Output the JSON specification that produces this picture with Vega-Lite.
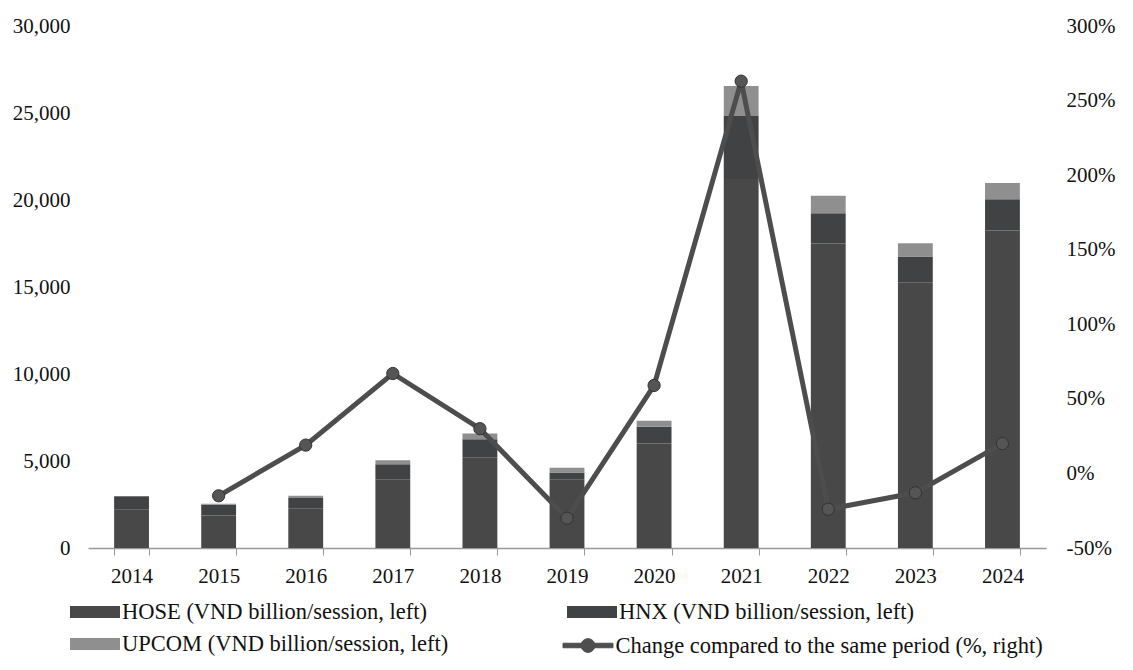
{
  "$schema": "https://vega.github.io/schema/vega-lite/v6.json",
  "width": 958,
  "height": 522,
  "autosize": {"type": "none"},
  "padding": {"left": 88, "top": 26, "right": 87, "bottom": 122},
  "background": "white",
  "config": {
    "view": {"stroke": null},
    "font": "Liberation Serif",
    "axis": {"grid": false, "labelFont": "Liberation Serif", "labelColor": "#111", "labelFontSize": 21},
    "legend": {"labelFont": "Liberation Serif", "labelColor": "#111", "labelFontSize": 22.5, "labelLimit": 0}
  },
  "datasets": {
    "bars": [
      {"year": "2014", "exchange": "HOSE (VND billion/session, left)", "rank": 1, "value": 2200},
      {"year": "2014", "exchange": "HNX (VND billion/session, left)", "rank": 2, "value": 770},
      {"year": "2014", "exchange": "UPCOM (VND billion/session, left)", "rank": 3, "value": 15},
      {"year": "2015", "exchange": "HOSE (VND billion/session, left)", "rank": 1, "value": 1870},
      {"year": "2015", "exchange": "HNX (VND billion/session, left)", "rank": 2, "value": 620},
      {"year": "2015", "exchange": "UPCOM (VND billion/session, left)", "rank": 3, "value": 50},
      {"year": "2016", "exchange": "HOSE (VND billion/session, left)", "rank": 1, "value": 2250},
      {"year": "2016", "exchange": "HNX (VND billion/session, left)", "rank": 2, "value": 630},
      {"year": "2016", "exchange": "UPCOM (VND billion/session, left)", "rank": 3, "value": 130},
      {"year": "2017", "exchange": "HOSE (VND billion/session, left)", "rank": 1, "value": 3950},
      {"year": "2017", "exchange": "HNX (VND billion/session, left)", "rank": 2, "value": 860},
      {"year": "2017", "exchange": "UPCOM (VND billion/session, left)", "rank": 3, "value": 230},
      {"year": "2018", "exchange": "HOSE (VND billion/session, left)", "rank": 1, "value": 5220},
      {"year": "2018", "exchange": "HNX (VND billion/session, left)", "rank": 2, "value": 1030},
      {"year": "2018", "exchange": "UPCOM (VND billion/session, left)", "rank": 3, "value": 330},
      {"year": "2019", "exchange": "HOSE (VND billion/session, left)", "rank": 1, "value": 3920},
      {"year": "2019", "exchange": "HNX (VND billion/session, left)", "rank": 2, "value": 420},
      {"year": "2019", "exchange": "UPCOM (VND billion/session, left)", "rank": 3, "value": 270},
      {"year": "2020", "exchange": "HOSE (VND billion/session, left)", "rank": 1, "value": 6010},
      {"year": "2020", "exchange": "HNX (VND billion/session, left)", "rank": 2, "value": 960},
      {"year": "2020", "exchange": "UPCOM (VND billion/session, left)", "rank": 3, "value": 340},
      {"year": "2021", "exchange": "HOSE (VND billion/session, left)", "rank": 1, "value": 21200},
      {"year": "2021", "exchange": "HNX (VND billion/session, left)", "rank": 2, "value": 3630},
      {"year": "2021", "exchange": "UPCOM (VND billion/session, left)", "rank": 3, "value": 1720},
      {"year": "2022", "exchange": "HOSE (VND billion/session, left)", "rank": 1, "value": 17500},
      {"year": "2022", "exchange": "HNX (VND billion/session, left)", "rank": 2, "value": 1735},
      {"year": "2022", "exchange": "UPCOM (VND billion/session, left)", "rank": 3, "value": 1015},
      {"year": "2023", "exchange": "HOSE (VND billion/session, left)", "rank": 1, "value": 15270},
      {"year": "2023", "exchange": "HNX (VND billion/session, left)", "rank": 2, "value": 1480},
      {"year": "2023", "exchange": "UPCOM (VND billion/session, left)", "rank": 3, "value": 760},
      {"year": "2024", "exchange": "HOSE (VND billion/session, left)", "rank": 1, "value": 18250},
      {"year": "2024", "exchange": "HNX (VND billion/session, left)", "rank": 2, "value": 1800},
      {"year": "2024", "exchange": "UPCOM (VND billion/session, left)", "rank": 3, "value": 920}
    ],
    "change": [
      {"year": "2015", "change": -15},
      {"year": "2016", "change": 19},
      {"year": "2017", "change": 67},
      {"year": "2018", "change": 30},
      {"year": "2019", "change": -30},
      {"year": "2020", "change": 59},
      {"year": "2021", "change": 263},
      {"year": "2022", "change": -24},
      {"year": "2023", "change": -13},
      {"year": "2024", "change": 20}
    ]
  },
  "encoding": {
    "x": {
      "field": "year",
      "type": "ordinal",
      "scale": {"domain": ["2014","2015","2016","2017","2018","2019","2020","2021","2022","2023","2024"], "paddingInner": 0.6, "paddingOuter": 0.3},
      "axis": {"title": null, "labelAngle": 0, "domainColor": "#999", "domainWidth": 1.5, "tickColor": "#999", "tickSize": 7, "tickBand": "extent", "labelPadding": 10}
    }
  },
  "layer": [
    {
      "data": {"name": "bars"},
      "mark": {"type": "bar"},
      "encoding": {
        "y": {
          "field": "value", "type": "quantitative", "stack": "zero",
          "scale": {"domain": [0, 30000]},
          "axis": {"title": null, "orient": "left", "values": [0,5000,10000,15000,20000,25000,30000], "format": ",.0f", "domain": false, "ticks": false, "labelPadding": 18}
        },
        "order": {"field": "rank", "type": "quantitative"},
        "color": {
          "field": "exchange", "type": "nominal",
          "scale": {"domain": ["HOSE (VND billion/session, left)", "UPCOM (VND billion/session, left)", "HNX (VND billion/session, left)"], "range": ["#484848", "#8f8f8f", "#414243"]},
          "legend": {
            "title": null, "orient": "none", "legendX": -5.5, "legendY": 573.5, "columns": 2, "columnPadding": 118,
            "symbolType": "M-2,-0.48H2V0.48H-2Z", "symbolSize": 625, "symbolStrokeWidth": 0, "labelOffset": 14.5, "rowPadding": 8
          }
        }
      }
    },
    {
      "data": {"name": "change"},
      "encoding": {
        "y": {
          "field": "change", "type": "quantitative",
          "scale": {"domain": [-50, 300]},
          "axis": {"title": null, "orient": "right", "values": [-50,0,50,100,150,200,250,300], "labelExpr": "datum.value + '%'", "domain": false, "ticks": false, "labelPadding": 20}
        }
      },
      "layer": [
        {
          "mark": {"type": "line", "strokeWidth": 5},
          "encoding": {
            "stroke": {
              "datum": "Change compared to the same period (%, right)",
              "scale": {"range": ["#4d4d4d"]},
              "legend": {
                "title": null, "orient": "none", "legendX": 487, "legendY": 606.5,
                "symbolType": "M-2,-0.18H2V0.18H-2Z M-0.55,0A0.55,0.55 0 1,1 0.55,0A0.55,0.55 0 1,1 -0.55,0Z",
                "symbolSize": 625, "labelOffset": 14.5,
                "encode": {"symbols": {"update": {"fill": {"value": "#4f4f4f"}, "stroke": {"value": "#333"}, "strokeWidth": {"value": 1}}}}
              }
            }
          }
        },
        {
          "mark": {"type": "point", "filled": true, "size": 150, "fill": "#555", "stroke": "#333", "strokeWidth": 1, "opacity": 1}
        }
      ]
    }
  ],
  "resolve": {"scale": {"y": "independent"}}
}
